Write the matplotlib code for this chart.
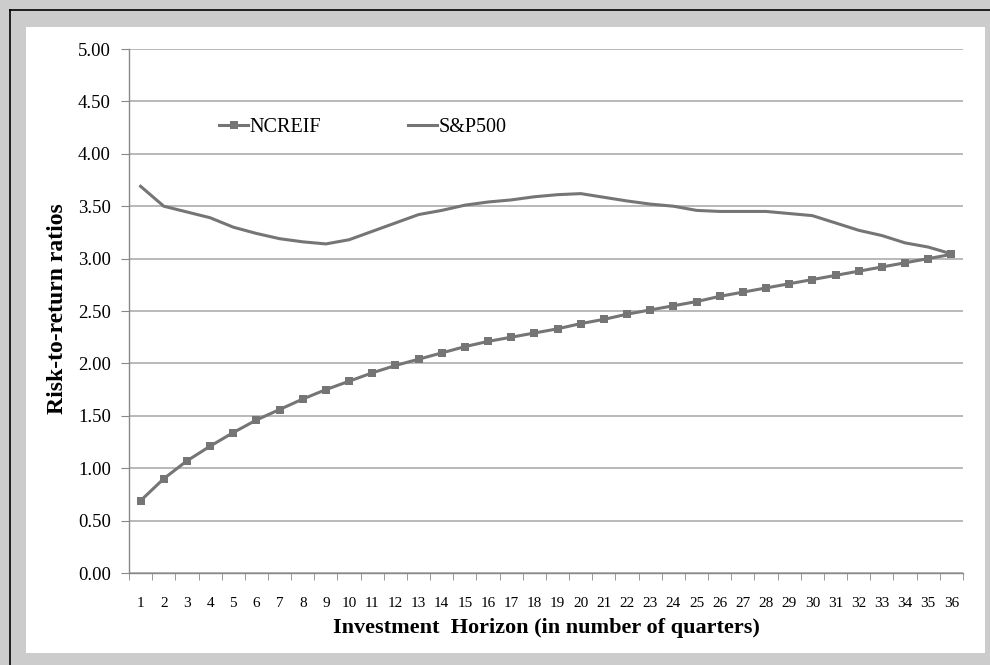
import matplotlib
matplotlib.use("Agg")
from matplotlib import pyplot as plt
from matplotlib.patches import Rectangle
from matplotlib.lines import Line2D

# quarters on the x axis
quarters = list(range(1, 37))

# risk-to-return ratios
ncreif = [0.69, 0.90, 1.07, 1.21, 1.34, 1.46, 1.56, 1.66, 1.75, 1.83,
          1.91, 1.98, 2.04, 2.10, 2.16, 2.21, 2.25, 2.29, 2.33, 2.38,
          2.42, 2.47, 2.51, 2.55, 2.59, 2.64, 2.68, 2.72, 2.76, 2.80,
          2.84, 2.88, 2.92, 2.96, 3.00, 3.04]
sp500 = [3.69, 3.50, 3.445, 3.39, 3.30, 3.24, 3.19, 3.16, 3.14, 3.18,
         3.26, 3.34, 3.42, 3.46, 3.51, 3.54, 3.56, 3.59, 3.61, 3.62,
         3.585, 3.55, 3.52, 3.50, 3.46, 3.45, 3.45, 3.45, 3.43, 3.41,
         3.34, 3.27, 3.22, 3.15, 3.11, 3.045]

yticks = [0.0, 0.5, 1.0, 1.5, 2.0, 2.5, 3.0, 3.5, 4.0, 4.5, 5.0]

plt.rcParams['font.family'] = ['Liberation Serif', 'DejaVu Serif']

W, H = 990, 665
fig = plt.figure(figsize=(W / 100, H / 100), dpi=100, facecolor='#cccccc')

# white chart area and the black frame lines
fig.patches.append(Rectangle((26 / W, 1 - 653 / H), (985 - 26) / W, (653 - 27) / H,
                             transform=fig.transFigure, facecolor='white',
                             edgecolor='none', zorder=-10))
fig.lines.append(Line2D([10 / W, 1], [1 - 10 / H, 1 - 10 / H], transform=fig.transFigure,
                        color='black', lw=1.2, zorder=-10))
fig.lines.append(Line2D([10 / W, 10 / W], [1 - 10 / H, 0], transform=fig.transFigure,
                        color='black', lw=1.2, zorder=-10))

ax = fig.add_axes([129 / W, 1 - 573 / H, (963 - 129) / W, (573 - 49) / H])
ax.set_facecolor('none')

gcol = '#757575'
ax.plot(quarters, ncreif, color=gcol, lw=2.2, marker='s', markersize=5.5,
        markeredgewidth=0, label='NCREIF', zorder=3)
ax.plot(quarters, sp500, color=gcol, lw=2.2, label='S&P500', zorder=3)

ax.set_xlim(0.5, 36.5)
ax.set_ylim(0, 5)
ax.set_yticks(yticks)
ax.set_yticklabels([f'{v:.2f}' for v in yticks], fontsize=13.5)
ax.set_xticks(quarters)
ax.set_xticklabels([str(q) for q in quarters], fontsize=11)
ax.set_xticks([q - 0.5 for q in quarters] + [36.5], minor=True)
ax.tick_params(axis='x', which='major', length=0, pad=17)
ax.tick_params(axis='x', which='minor', length=5, color='#888888', direction='out')
ax.tick_params(axis='y', length=6, color='#888888', pad=7)

ax.grid(axis='y', color='#a6a6a6', lw=1.1)
ax.set_axisbelow(True)
for s in ['top', 'right']:
    ax.spines[s].set_visible(False)
for s in ['left', 'bottom']:
    ax.spines[s].set_color('#888888')
    ax.spines[s].set_linewidth(1)

ax.set_ylabel('Risk-to-return ratios', fontsize=17, fontweight='bold')
ax.yaxis.set_label_coords(-0.073, 0.504)
ax.set_xlabel('Investment  Horizon (in number of quarters)', fontsize=16,
              fontweight='bold')
ax.xaxis.set_label_coords(0.5, -0.086)

ax.legend(loc='center left', bbox_to_anchor=(0.108, 0.851), ncol=2, frameon=False,
          fontsize=14.5, handlelength=1.45, handletextpad=0.08, columnspacing=4.3,
          borderaxespad=0, borderpad=0)

fig.savefig('out.png', dpi=100, facecolor=fig.get_facecolor())
